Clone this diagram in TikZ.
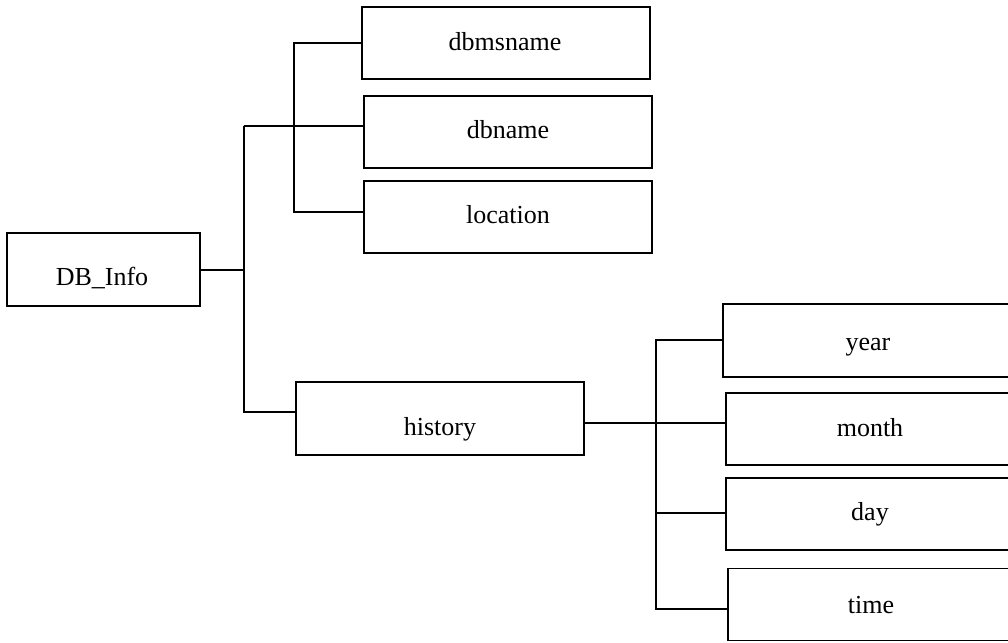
\documentclass[tikz,border=0pt]{standalone}
\usepackage{fontspec}
\setmainfont{Liberation Serif}
\begin{document}
\begin{tikzpicture}[x=1pt,y=-1pt,
  box/.style={draw=black,line width=1.2pt,rectangle,inner sep=0pt},
  lbl/.style={anchor=base,inner sep=0pt,font=\fontsize{26}{30}\selectfont},
  conn/.style={draw=black,line width=1.1pt}]
\useasboundingbox (0,0) rectangle (1008,642);
\clip (0,0) rectangle (1008,642);
% boxes
\node[box,fit/.style={},minimum width=193pt,minimum height=73pt] (db) at (103.5,269.5) {};
\node[box,minimum width=288pt,minimum height=72pt] (dbms) at (506,43) {};
\node[box,minimum width=288pt,minimum height=72pt] (dbn) at (508,132) {};
\node[box,minimum width=288pt,minimum height=72pt] (loc) at (508,217) {};
\node[box,minimum width=288pt,minimum height=73pt] (hist) at (440,418.5) {};
\node[box,minimum width=293pt,minimum height=73pt] (year) at (869.5,340.5) {};
\node[box,minimum width=290pt,minimum height=72pt] (month) at (871,429) {};
\node[box,minimum width=290pt,minimum height=72pt] (day) at (871,514) {};
\node[box,minimum width=288pt,minimum height=72pt] (time) at (872,604.5) {};
% labels
\node[lbl] (tdb) at (102,285) {DB\_Info};
\node[lbl] (tdbms) at (505,50) {dbmsname};
\node[lbl] (tdbn) at (508,138) {dbname};
\node[lbl] (tloc) at (508,223) {location};
\node[lbl] (thist) at (440,435) {history};
\node[lbl] (tyear) at (868,350) {year};
\node[lbl] (tmonth) at (870,436) {month};
\node[lbl] (tday) at (870,520) {day};
\node[lbl] (ttime) at (871,613) {time};
% junction points
\coordinate (a1) at (244,126);
\coordinate (a2) at (244,270);
\coordinate (a3) at (244,412);
\coordinate (b1) at (294,43);
\coordinate (b2) at (294,126);
\coordinate (b3) at (294,212);
\coordinate (c1) at (656,340);
\coordinate (c2) at (656,423);
\coordinate (c3) at (656,513);
\coordinate (c4) at (656,609);
% connectors
\draw[conn] (db.east |- a2) -- (a2);
\draw[conn] (a1) -- (a3) -- (a3 -| hist.west);
\draw[conn] (a1) -- (a1 -| dbn.west);
\draw[conn] (b1 -| dbms.west) -- (b1) -- (b3) -- (b3 -| loc.west);
\draw[conn] (hist.east |- c2) -- (c2) -- (c2 -| month.west);
\draw[conn] (c1 -| year.west) -- (c1) -- (c4) -- (c4 -| time.west);
\draw[conn] (c3) -- (c3 -| day.west);
\end{tikzpicture}
\end{document}
